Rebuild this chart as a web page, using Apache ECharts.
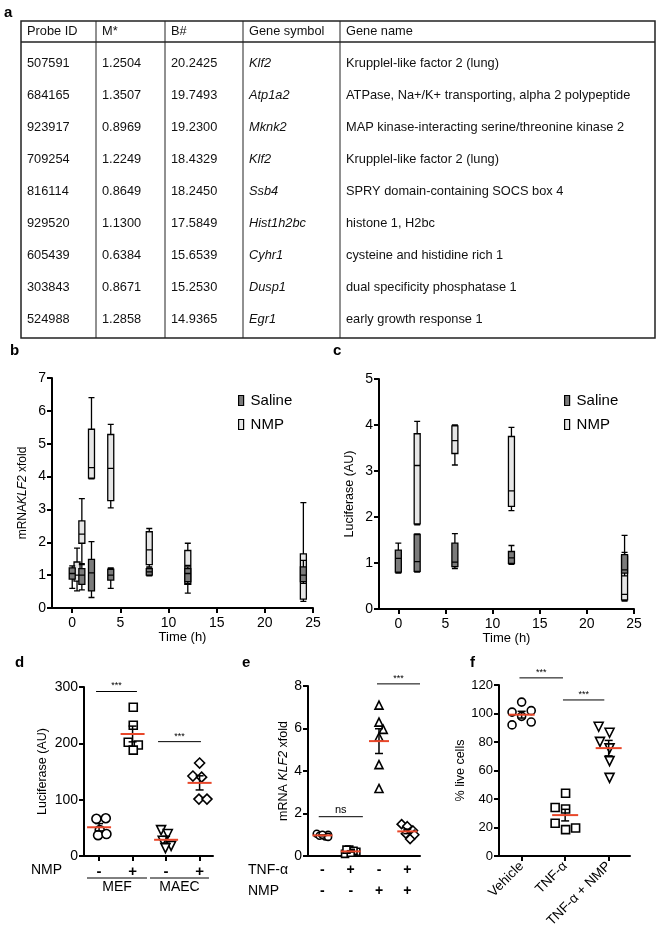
<!DOCTYPE html>
<html>
<head>
<meta charset="utf-8">
<script src="https://cdn.jsdelivr.net/npm/echarts@6/dist/echarts.min.js"></script>
<style>
  html, body { margin: 0; padding: 0; background: #fff; }
  #chart { width: 668px; height: 929px; }
</style>
</head>
<body>
<div id="chart"></div>
<script>
const FONT = "'Liberation Sans', Arial, sans-serif";

// ---- panel a: top probes
const tableHeaders = ['Probe ID', 'M*', 'B#', 'Gene symbol', 'Gene name'];
const probeIds = ['507591', '684165', '923917', '709254', '816114', '929520', '605439', '303843', '524988'];
const mValues = ['1.2504', '1.3507', '0.8969', '1.2249', '0.8649', '1.1300', '0.6384', '0.8671', '1.2858'];
const bValues = ['20.2425', '19.7493', '19.2300', '18.4329', '18.2450', '17.5849', '15.6539', '15.2530', '14.9365'];
const geneSymbols = ['Klf2', 'Atp1a2', 'Mknk2', 'Klf2', 'Ssb4', 'Hist1h2bc', 'Cyhr1', 'Dusp1', 'Egr1'];
const geneNames = [
  'Krupplel-like factor 2 (lung)',
  'ATPase, Na+/K+ transporting, alpha 2 polypeptide',
  'MAP kinase-interacting serine/threonine kinase 2',
  'Krupplel-like factor 2 (lung)',
  'SPRY domain-containing SOCS box 4',
  'histone 1, H2bc',
  'cysteine and histidine rich 1',
  'dual specificity phosphatase 1',
  'early growth response 1'
];

// ---- panel b: mRNA KLF2, [time, min, Q1, median, Q3, max]
const mrnaSaline = [
  [0, 0.6, 0.88, 1.05, 1.22, 1.28],
  [1, 0.55, 0.72, 1.0, 1.2, 1.32],
  [2, 0.32, 0.52, 1.07, 1.48, 2.02],
  [4, 0.6, 0.85, 1.0, 1.18, 1.22],
  [8, 0.98, 1.0, 1.1, 1.2, 1.22],
  [12, 0.75, 0.8, 1.05, 1.2, 1.25],
  [24, 0.75, 0.8, 1.0, 1.25, 1.45]
];
const mrnaNmp = [
  [0.5, 0.52, 0.82, 1.0, 1.4, 1.82],
  [1, 1.35, 1.97, 2.25, 2.65, 3.33],
  [2, 3.93, 3.95, 4.27, 5.44, 6.4],
  [4, 3.05, 3.27, 4.25, 5.28, 5.59],
  [8, 1.25, 1.32, 1.77, 2.32, 2.42],
  [12, 0.45, 0.72, 1.3, 1.75, 1.97],
  [24, 0.2, 0.27, 0.9, 1.65, 3.21]
];

// ---- panel c: luciferase
const lucSaline = [
  [0, 0.78, 0.8, 1.1, 1.28, 1.43],
  [2, 0.8, 0.82, 1.03, 1.62, 1.63],
  [6, 0.88, 0.92, 1.02, 1.43, 1.64],
  [12, 0.97, 0.99, 1.11, 1.25, 1.38],
  [24, 0.72, 0.78, 0.85, 1.18, 1.6]
];
const lucNmp = [
  [2, 1.83, 1.85, 3.12, 3.81, 4.08],
  [6, 3.13, 3.38, 3.66, 3.98, 4.0],
  [12, 2.14, 2.23, 2.57, 3.75, 3.95],
  [24, 0.17, 0.2, 0.32, 1.15, 1.23]
];
const timeTicks = [0, 5, 10, 15, 20, 25];

// ---- panel d: luciferase MEF / MAEC
const dSigns = ['-', '+', '-', '+'];
const dMefCtrl = [66, 67, 46, 37, 39];
const dMefNmp = [264, 232, 202, 197, 188];
const dMaecCtrl = [46, 39, 27, 18, 14];
const dMaecNmp = [165, 142, 140, 101, 101];
const dJitter = [
  [-0.08, 0.2, 0.02, -0.03, 0.22],
  [0.02, 0.02, -0.13, 0.17, 0.02],
  [-0.15, 0.05, -0.1, 0.15, -0.02],
  [0.0, -0.2, 0.06, -0.02, 0.22]
];
const dSig = [[-0.09, 1.13, 292], [1.76, 3.04, 203]];
const dSigText = ['***', '***'];
const dGroups = [[-0.36, 1.43, 'MEF'], [1.52, 3.28, 'MAEC']];

// ---- panel e: mRNA KLF2 with TNF-alpha
const eTnf = ['-', '+', '-', '+'];
const eNmp = ['-', '-', '+', '+'];
const eCtrl = [1.05, 1.0, 0.95, 0.92, 1.0, 0.9];
const eTnfOnly = [0.1, 0.2, 0.3, 0.25, 0.15, 0.3];
const eNmpOnly = [7.1, 6.3, 5.96, 5.6, 4.3, 3.18];
const eTnfNmp = [1.5, 1.4, 1.2, 1.0, 1.05, 0.8];
const eJitter = [
  [-0.2, 0.2, -0.1, 0.1, 0.0, 0.2],
  [-0.2, 0.2, -0.05, 0.1, 0.0, -0.15],
  [0.0, 0.0, 0.15, 0.0, 0.0, 0.0],
  [-0.2, 0.0, 0.2, 0.25, -0.05, 0.1]
];
const eSig = [[-0.13, 1.43, 1.85], [1.93, 3.45, 8.1]];
const eSigText = ['ns', '***'];

// ---- panel f: % live cells
const fCats = ['Vehicle', 'TNF-\u03b1', 'TNF-\u03b1 + NMP'];
const fVehicle = [108, 101, 102, 98, 92, 94];
const fTnf = [44, 34, 33, 23, 18.5, 19.7];
const fTnfNmp = [90.7, 86.5, 80.1, 75.5, 66.6, 54.8];
const fJitter = [
  [0.0, -0.22, 0.22, 0.0, -0.22, 0.22],
  [0.01, -0.23, 0.01, -0.23, 0.01, 0.24],
  [-0.23, 0.02, -0.2, 0.02, 0.02, 0.02]
];
const fSig = [[-0.05, 0.95, 125], [0.95, 1.9, 109.5]];
const fSigText = ['***', '***'];

const SALINE_FILL = '#7b7b7b';
const NMP_FILL = '#e6e6e6';
const MEAN_RED = '#e8472a';

function stats(vals) {
  const n = vals.length;
  const m = vals.reduce((a, b) => a + b, 0) / n;
  const sd = Math.sqrt(vals.reduce((a, b) => a + (b - m) * (b - m), 0) / (n - 1));
  return [m, sd / Math.sqrt(n)];
}

function jittered(groupIdx, vals, jitter) {
  return vals.map((v, k) => [groupIdx + jitter[k], v]);
}

function axisCommon(opts) {
  return {
    type: 'value',
    gridIndex: opts.grid,
    min: opts.min,
    max: opts.max,
    interval: opts.interval,
    show: opts.show !== false,
    name: opts.name,
    nameLocation: 'middle',
    nameGap: opts.nameGap,
    nameTextStyle: Object.assign({ color: '#000', fontSize: 12.5, fontFamily: FONT }, opts.nameStyle || {}),
    axisLine: { show: true, onZero: false, lineStyle: { color: '#000', width: 2 } },
    axisTick: {
      show: opts.tick !== false, length: 5, customValues: opts.custom,
      lineStyle: { color: '#000', width: 2 }
    },
    axisLabel: Object.assign({
      color: '#000', fontSize: 14, fontFamily: FONT, margin: 6, customValues: opts.custom
    }, opts.label || {}),
    splitLine: { show: false }
  };
}

function meanSemRenderer(halfWidth) {
  return function (params, api) {
    const x = api.value(0), m = api.value(1), s = api.value(2);
    const c = api.coord([x, m]);
    const top = api.coord([x, m + s]);
    const bot = api.coord([x, m - s]);
    const black = { stroke: '#000', lineWidth: 1.5 };
    return {
      type: 'group',
      children: [
        { type: 'line', shape: { x1: c[0], y1: top[1], x2: c[0], y2: bot[1] }, style: black },
        { type: 'line', shape: { x1: c[0] - 4, y1: top[1], x2: c[0] + 4, y2: top[1] }, style: black },
        { type: 'line', shape: { x1: c[0] - 4, y1: bot[1], x2: c[0] + 4, y2: bot[1] }, style: black },
        { type: 'line', shape: { x1: c[0] - halfWidth, y1: c[1], x2: c[0] + halfWidth, y2: c[1] },
          style: { stroke: MEAN_RED, lineWidth: 2 } }
      ]
    };
  };
}

function sigRenderer(labels) {
  return function (params, api) {
    const a = api.coord([api.value(0), api.value(2)]);
    const b = api.coord([api.value(1), api.value(2)]);
    const txt = labels[params.dataIndex];
    return {
      type: 'group',
      children: [
        { type: 'line', shape: { x1: a[0], y1: a[1], x2: b[0], y2: b[1] }, style: { stroke: '#000', lineWidth: 1 } },
        { type: 'text', x: (a[0] + b[0]) / 2, y: a[1] - 1,
          style: { text: txt, align: 'center', verticalAlign: 'bottom',
                   fontSize: txt === 'ns' ? 11 : 9, fontFamily: FONT, fill: '#000' } }
      ]
    };
  };
}

function dotSeries(name, xIdx, yIdx, data, symbol, rotate, size) {
  return {
    type: 'scatter', name: name, xAxisIndex: xIdx, yAxisIndex: yIdx, data: data,
    symbol: symbol, symbolRotate: rotate || 0, symbolSize: size,
    itemStyle: { color: '#fff', borderColor: '#000', borderWidth: 1.6, opacity: 1 },
    silent: true
  };
}

function boxSeries(name, xIdx, yIdx, data, fill) {
  return {
    type: 'boxplot', name: name, xAxisIndex: xIdx, yAxisIndex: yIdx, data: data,
    boxWidth: [6, 6],
    itemStyle: { color: fill, borderColor: '#000', borderWidth: 1.3 },
    silent: true
  };
}

// ---- table graphic (panel a)
const colX = [21, 96, 165, 243, 340, 655];
const tableTop = 21, headBottom = 42, tableBottom = 338, rowY0 = 63, rowStep = 32.1;
const tableGraphic = [
  { type: 'rect', shape: { x: colX[0], y: tableTop, width: colX[5] - colX[0], height: tableBottom - tableTop },
    style: { fill: 'none', stroke: '#222', lineWidth: 1.5 } },
  { type: 'line', shape: { x1: colX[0], y1: headBottom, x2: colX[5], y2: headBottom },
    style: { stroke: '#222', lineWidth: 1.5 } }
];
for (let c = 1; c < 5; c++) {
  tableGraphic.push({ type: 'line', shape: { x1: colX[c], y1: tableTop, x2: colX[c], y2: tableBottom },
    style: { stroke: '#222', lineWidth: 1 } });
}
const cellStyle = { fontSize: 12.8, fontFamily: FONT, fill: '#111', verticalAlign: 'middle' };
tableHeaders.forEach((h, c) => {
  tableGraphic.push({ type: 'text', x: colX[c] + 6, y: (tableTop + headBottom) / 2,
    style: Object.assign({ text: h }, cellStyle) });
});
const columns = [probeIds, mValues, bValues, geneSymbols, geneNames];
columns.forEach((col, c) => {
  col.forEach((v, r) => {
    tableGraphic.push({ type: 'text', x: colX[c] + 6, y: rowY0 + r * rowStep,
      style: Object.assign({ text: v, fontStyle: c === 3 ? 'italic' : 'normal' }, cellStyle) });
  });
});

const panelLabel = (t, x, y) => ({ type: 'text', x: x, y: y,
  style: { text: t, fontSize: 15, fontWeight: 'bold', fontFamily: FONT, fill: '#000' } });
const rowLabel = (t, x, y) => ({ type: 'text', x: x, y: y,
  style: { text: t, fontSize: 14, fontFamily: FONT, fill: '#000', verticalAlign: 'middle' } });

const legendCommon = {
  orient: 'vertical', icon: 'rect', itemWidth: 5, itemHeight: 10, itemGap: 9,
  selectedMode: false,
  data: [
    { name: 'Saline', itemStyle: { color: SALINE_FILL, borderColor: '#000', borderWidth: 1.2 } },
    { name: 'NMP', itemStyle: { color: NMP_FILL, borderColor: '#000', borderWidth: 1.2 } }
  ],
  textStyle: { color: '#000', fontSize: 15, fontFamily: FONT, padding: [0, 0, 0, 2] }
};

const chart = echarts.init(document.getElementById('chart'), null, { renderer: 'canvas' });

chart.setOption({
  animation: false,
  backgroundColor: '#fff',
  textStyle: { fontFamily: FONT },
  grid: [
    { left: 52, top: 378, width: 261, height: 230, outerBoundsMode: 'none' },
    { left: 379, top: 379, width: 255, height: 230, outerBoundsMode: 'none' },
    { left: 84, top: 687, width: 129, height: 169, outerBoundsMode: 'none' },
    { left: 308, top: 686, width: 112, height: 170, outerBoundsMode: 'none' },
    { left: 499, top: 685, width: 131, height: 171, outerBoundsMode: 'none' }
  ],
  legend: [
    Object.assign({ left: 233, top: 388 }, legendCommon),
    Object.assign({ left: 559, top: 388 }, legendCommon)
  ],
  xAxis: [
    axisCommon({ grid: 0, min: -2.1, max: 25, custom: timeTicks, name: 'Time (h)', nameGap: 22,
      nameStyle: { fontSize: 13 }, label: { margin: 8 } }),
    axisCommon({ grid: 0, min: -2.1, max: 25, show: false }),
    axisCommon({ grid: 1, min: -2.05, max: 25, custom: timeTicks, name: 'Time (h)', nameGap: 22,
      nameStyle: { fontSize: 13 }, label: { margin: 8 } }),
    axisCommon({ grid: 1, min: -2.05, max: 25, show: false }),
    axisCommon({ grid: 2, min: -0.45, max: 3.4, custom: [0, 1, 2, 3],
      label: { margin: 8, fontSize: 15, fontWeight: 'bold', formatter: v => dSigns[v] } }),
    axisCommon({ grid: 3, min: -0.51, max: 3.45, custom: [0, 1, 2, 3], tick: false,
      label: { margin: 4, fontSize: 14, fontWeight: 'bold', lineHeight: 21,
               formatter: v => eTnf[v] + '\n' + eNmp[v] } }),
    axisCommon({ grid: 4, min: -0.52, max: 2.49, custom: [0, 1, 2],
      label: { margin: 8, fontSize: 13.5, rotate: 45, formatter: v => fCats[v] } })
  ],
  yAxis: [
    axisCommon({ grid: 0, min: 0, max: 7, interval: 1, nameGap: 23,
      name: '{n|mRNA}{i|KLF2}{n| xfold}',
      nameStyle: { rich: { n: { fontSize: 12, fontFamily: FONT, color: '#000' },
                           i: { fontSize: 12, fontFamily: FONT, color: '#000', fontStyle: 'italic' } } } }),
    axisCommon({ grid: 1, min: 0, max: 5, interval: 1, nameGap: 23, name: 'Luciferase (AU)' }),
    axisCommon({ grid: 2, min: 0, max: 300, interval: 100, nameGap: 35, name: 'Luciferase (AU)' }),
    axisCommon({ grid: 3, min: 0, max: 8, interval: 2, nameGap: 16,
      name: '{n|mRNA }{i|KLF2}{n| xfold}',
      nameStyle: { rich: { n: { fontSize: 12.5, fontFamily: FONT, color: '#000' },
                           i: { fontSize: 12.5, fontFamily: FONT, color: '#000', fontStyle: 'italic' } } } }),
    axisCommon({ grid: 4, min: 0, max: 120, interval: 20, nameGap: 23, name: '% live cells',
      label: { fontSize: 13 } })
  ],
  series: [
    // panel b
    boxSeries('NMP', 1, 0, mrnaNmp, NMP_FILL),
    boxSeries('Saline', 0, 0, mrnaSaline, SALINE_FILL),
    // panel c
    boxSeries('NMP', 3, 1, lucNmp, NMP_FILL),
    boxSeries('Saline', 2, 1, lucSaline, SALINE_FILL),
    // panel d
    dotSeries('MEF -', 4, 2, jittered(0, dMefCtrl, dJitter[0]), 'circle', 0, 9),
    dotSeries('MEF +', 4, 2, jittered(1, dMefNmp, dJitter[1]), 'rect', 0, 8),
    dotSeries('MAEC -', 4, 2, jittered(2, dMaecCtrl, dJitter[2]), 'triangle', 180, 9),
    dotSeries('MAEC +', 4, 2, jittered(3, dMaecNmp, dJitter[3]), 'diamond', 0, 10),
    {
      type: 'custom', xAxisIndex: 4, yAxisIndex: 2, silent: true, z: 5,
      renderItem: meanSemRenderer(12),
      data: [dMefCtrl, dMefNmp, dMaecCtrl, dMaecNmp].map((v, i) => [i].concat(stats(v)))
    },
    {
      type: 'custom', xAxisIndex: 4, yAxisIndex: 2, silent: true,
      renderItem: sigRenderer(dSigText), data: dSig
    },
    {
      type: 'custom', xAxisIndex: 4, yAxisIndex: 2, silent: true,
      renderItem: function (params, api) {
        const a = api.coord([api.value(0), 0]);
        const b = api.coord([api.value(1), 0]);
        return {
          type: 'group',
          children: [
            { type: 'line', shape: { x1: a[0], y1: a[1] + 22, x2: b[0], y2: b[1] + 22 },
              style: { stroke: '#000', lineWidth: 1 } },
            { type: 'text', x: (a[0] + b[0]) / 2, y: a[1] + 31,
              style: { text: dGroups[params.dataIndex][2], align: 'center', verticalAlign: 'middle',
                       fontSize: 14, fontFamily: FONT, fill: '#000' } }
          ]
        };
      },
      data: dGroups.map(g => [g[0], g[1]])
    },
    // panel e
    dotSeries('ctrl', 5, 3, jittered(0, eCtrl, eJitter[0]), 'circle', 0, 7),
    dotSeries('TNF', 5, 3, jittered(1, eTnfOnly, eJitter[1]), 'rect', 0, 7),
    dotSeries('NMP only', 5, 3, jittered(2, eNmpOnly, eJitter[2]), 'triangle', 0, 8),
    dotSeries('TNF+NMP', 5, 3, jittered(3, eTnfNmp, eJitter[3]), 'diamond', 0, 9),
    {
      type: 'custom', xAxisIndex: 5, yAxisIndex: 3, silent: true, z: 5,
      renderItem: meanSemRenderer(10),
      data: [eCtrl, eTnfOnly, eNmpOnly, eTnfNmp].map((v, i) => [i].concat(stats(v)))
    },
    {
      type: 'custom', xAxisIndex: 5, yAxisIndex: 3, silent: true,
      renderItem: sigRenderer(eSigText), data: eSig
    },
    // panel f
    dotSeries('Vehicle', 6, 4, jittered(0, fVehicle, fJitter[0]), 'circle', 0, 8),
    dotSeries('TNF-a', 6, 4, jittered(1, fTnf, fJitter[1]), 'rect', 0, 8),
    dotSeries('TNF-a + NMP', 6, 4, jittered(2, fTnfNmp, fJitter[2]), 'triangle', 180, 9),
    {
      type: 'custom', xAxisIndex: 6, yAxisIndex: 4, silent: true, z: 5,
      renderItem: meanSemRenderer(13),
      data: [fVehicle, fTnf, fTnfNmp].map((v, i) => [i].concat(stats(v)))
    },
    {
      type: 'custom', xAxisIndex: 6, yAxisIndex: 4, silent: true,
      renderItem: sigRenderer(fSigText), data: fSig
    }
  ],
  graphic: tableGraphic.concat([
    panelLabel('a', 4, 5),
    panelLabel('b', 10, 343),
    panelLabel('c', 333, 343),
    panelLabel('d', 15, 655),
    panelLabel('e', 242, 655),
    panelLabel('f', 470, 655),
    rowLabel('NMP', 31, 870),
    rowLabel('TNF-\u03b1', 248, 870),
    rowLabel('NMP', 248, 891)
  ])
});
</script>
</body>
</html>
